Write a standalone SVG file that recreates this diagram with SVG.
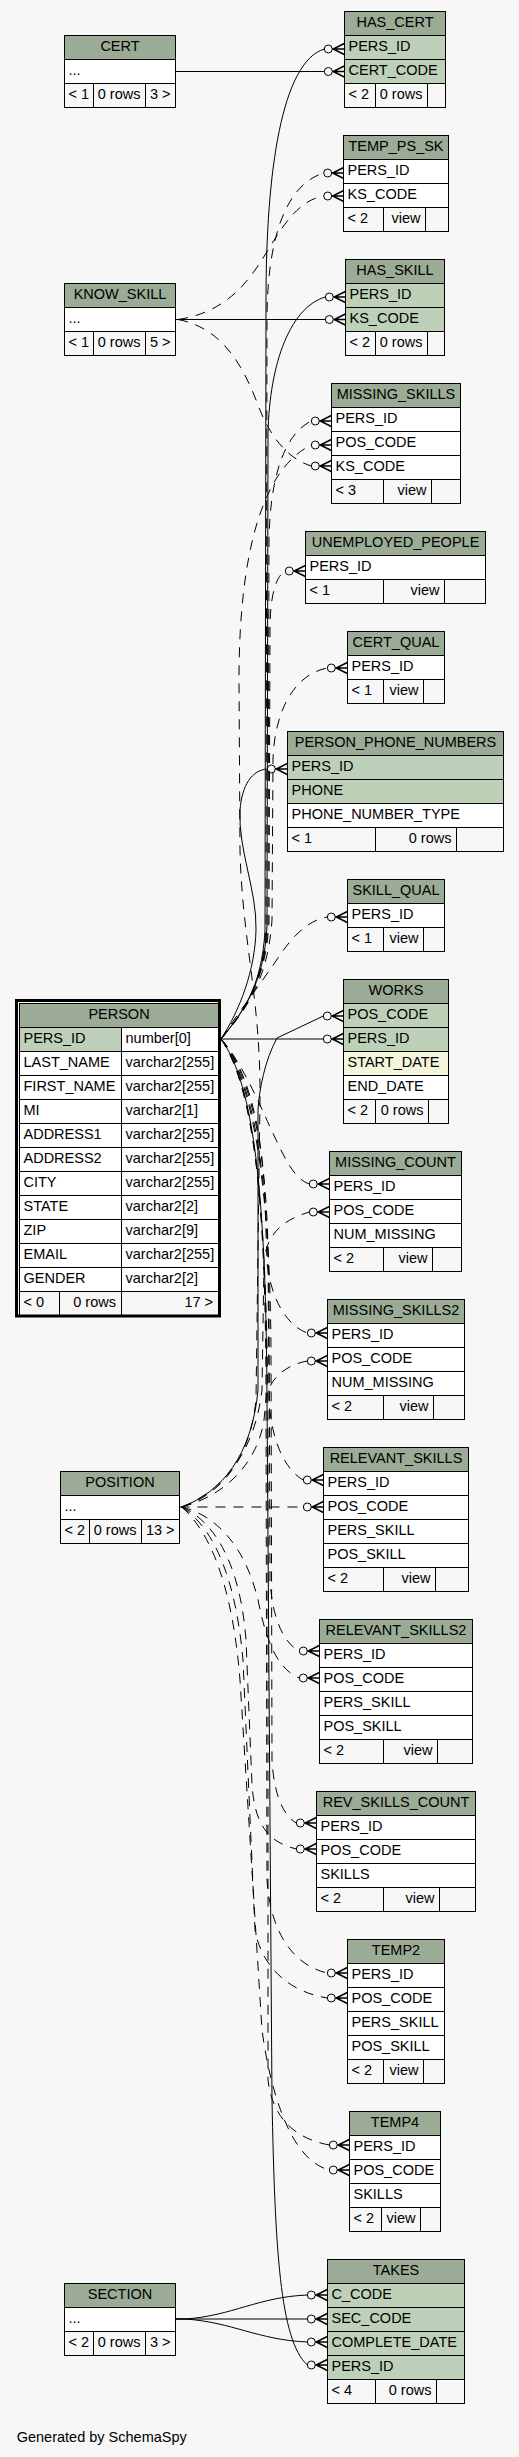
<svg xmlns="http://www.w3.org/2000/svg" width="519" height="2457" viewBox="0 0 519 2457">
<style>
text{font-family:"Liberation Sans",Arial,Helvetica,sans-serif;font-size:14.5px;fill:#000}
.c{text-anchor:middle}
.r{text-anchor:end}
.h{fill:#9bab96;stroke:#000;stroke-width:1}
.k{fill:#bed1b8;stroke:#000;stroke-width:1}
.w{fill:#fff;stroke:#000;stroke-width:1}
.i{fill:#f4f6dc;stroke:#000;stroke-width:1}
.f{fill:none;stroke:#000;stroke-width:1}
.s{fill:none;stroke:#000;stroke-width:1}
.d{fill:none;stroke:#000;stroke-width:1;stroke-dasharray:10,8}
</style>
<defs>
<g id="cr" fill="none" stroke="#000">
<circle cx="4" cy="0" r="4" stroke-width="1"/>
<path d="M8,0H20M9,0L20,-5.5M9,0L20,5.5" stroke-width="1.4"/>
</g>
</defs>
<rect x="0" y="0" width="519" height="2457" fill="#f7f7f7"/>

<g id="connectors">
<path class="s" d="M221,1039 C240,1015 262,990 265,930 L266,300 C266,170 282,62 324.3,49"/>
<path class="s" d="M175.5,71.5 L324.3,71.5"/>
<path class="d" d="M221,1039 C241,1014 263,988 266,928 L267,320 C267,240 285,185 323.7,173"/>
<path class="d" d="M178,319.5 C228,312 250,280 268,250 C285,222 300,200 323.7,196"/>
<path class="s" d="M221,1039 C242,1013 264,986 267,926 L268,440 C268,370 288,308 325.3,297"/>
<path class="s" d="M175.5,319.5 L325.3,319.5"/>
<path class="d" d="M221,1039 C243,1012 265,984 268,924 L269,540 C270,480 283,435 311.3,421"/>
<path class="d" d="M181.7,1507 C220,1495 250,1460 256,1400 L260,1100 C261,1000 242,940 240,850 L239,680 C239,560 260,470 311.3,445"/>
<path class="d" d="M178,319.5 C222,328 243,365 258,405 C268,432 285,458 311.3,466"/>
<path class="d" d="M221,1039 C244,1011 266,982 269,922 L270,630 C270,595 276,576 285.3,571"/>
<path class="d" d="M221,1039 C246,1010 268,980 272,920 L273,760 C274,715 292,675 327.3,668"/>
<path class="s" d="M221,1039 C240,1010 255,970 256,930 C257,890 238,850 240,810 C242,785 252,770 267.3,769"/>
<path class="d" d="M221,1039 C240,1010 260,985 280,955 C295,933 310,920 327.3,917"/>
<path class="s" d="M181.7,1507 C222,1492 252,1455 258,1390 L258,1110 C259,1090 265,1060 277,1038 L323.3,1016"/>
<path class="s" d="M221,1039 L323.3,1039"/>
<path class="d" d="M221,1039 C240,1060 258,1100 270,1127 C282,1152 292,1178 309.3,1184"/>
<path class="d" d="M181.7,1507 C225,1490 255,1450 262,1390 L264,1262 C266,1235 282,1220 309.3,1212"/>
<path class="d" d="M221,1039 C245,1065 262,1120 265,1200 L267,1262 C270,1295 285,1325 307.3,1333"/>
<path class="d" d="M181.7,1507 C228,1495 258,1460 264,1420 L266,1400 C268,1380 285,1365 307.3,1361"/>
<path class="d" d="M221,1039 C248,1070 266,1140 268,1250 L269,1400 C271,1440 285,1470 303.3,1480"/>
<path class="d" d="M179.5,1507 L303.3,1507"/>
<path class="d" d="M221,1039 C250,1075 268,1160 269,1300 L270,1580 C272,1615 282,1642 299.3,1651"/>
<path class="d" d="M181.7,1507 C215,1515 245,1545 258,1600 C265,1635 275,1668 299.3,1678"/>
<path class="d" d="M221,1039 C252,1080 270,1180 271,1350 L272,1760 C274,1795 283,1815 296.3,1823"/>
<path class="d" d="M181.7,1507 C212,1520 240,1560 246,1640 L252,1785 C255,1825 268,1842 296.3,1849"/>
<path class="d" d="M221,1039 C254,1085 266,1200 266,1400 L267,1880 C270,1930 292,1965 327.3,1973"/>
<path class="d" d="M181.7,1507 C210,1525 235,1570 243,1660 L255,1930 C262,1968 290,1992 327.3,1998"/>
<path class="d" d="M221,1039 C256,1090 268,1220 268,1450 L268,2080 C272,2115 292,2138 329.3,2145"/>
<path class="d" d="M181.7,1507 C208,1530 232,1580 240,1680 L262,2030 C270,2090 290,2160 329.3,2170"/>
<path class="s" d="M175.5,2319 L185,2319 C232,2316 258,2297 307.3,2295"/>
<path class="s" d="M175.5,2319 L307.3,2319"/>
<path class="s" d="M175.5,2319 L185,2319 C232,2322 258,2340 307.3,2342"/>
<path class="s" d="M221,1039 C255,1085 266,1200 267,1400 L272,2100 C275,2250 280,2340 307.3,2365"/>
<use href="#cr" x="324.3" y="49"/>
<use href="#cr" x="324.3" y="71.5"/>
<use href="#cr" x="323.7" y="173"/>
<use href="#cr" x="323.7" y="196"/>
<use href="#cr" x="325.3" y="297"/>
<use href="#cr" x="325.3" y="319.5"/>
<use href="#cr" x="311.3" y="421"/>
<use href="#cr" x="311.3" y="445"/>
<use href="#cr" x="311.3" y="466"/>
<use href="#cr" x="285.3" y="571"/>
<use href="#cr" x="327.3" y="668"/>
<use href="#cr" x="267.3" y="769"/>
<use href="#cr" x="327.3" y="917"/>
<use href="#cr" x="323.3" y="1016"/>
<use href="#cr" x="323.3" y="1039"/>
<use href="#cr" x="309.3" y="1184"/>
<use href="#cr" x="309.3" y="1212"/>
<use href="#cr" x="307.3" y="1333"/>
<use href="#cr" x="307.3" y="1361"/>
<use href="#cr" x="303.3" y="1480"/>
<use href="#cr" x="303.3" y="1507"/>
<use href="#cr" x="299.3" y="1651"/>
<use href="#cr" x="299.3" y="1678"/>
<use href="#cr" x="296.3" y="1823"/>
<use href="#cr" x="296.3" y="1849"/>
<use href="#cr" x="327.3" y="1973"/>
<use href="#cr" x="327.3" y="1998"/>
<use href="#cr" x="329.3" y="2145"/>
<use href="#cr" x="329.3" y="2170"/>
<use href="#cr" x="307.3" y="2295"/>
<use href="#cr" x="307.3" y="2319"/>
<use href="#cr" x="307.3" y="2342"/>
<use href="#cr" x="307.3" y="2365"/>
</g>

<g id="CERT">
<rect class="h" x="64.5" y="35.5" width="111" height="24"/><text class="c" x="120" y="51">CERT</text>
<rect class="w" x="64.5" y="59.5" width="111" height="24"/><text x="68.5" y="75">...</text>
<rect class="f" x="64.5" y="83.5" width="111" height="24"/><path class="f" d="M93.5,83.5v24M145.5,83.5v24"/>
<text x="68.5" y="99">&lt; 1</text><text class="r" x="140.5" y="99">0 rows</text><text class="r" x="170.5" y="99">3 &gt;</text>
</g>

<g id="HAS_CERT">
<rect class="h" x="344.5" y="11.5" width="101" height="24"/><text class="c" x="395" y="27">HAS_CERT</text>
<rect class="k" x="344.5" y="35.5" width="101" height="24"/><text x="348.5" y="51">PERS_ID</text>
<rect class="k" x="344.5" y="59.5" width="101" height="24"/><text x="348.5" y="75">CERT_CODE</text>
<rect class="f" x="344.5" y="83.5" width="101" height="24"/><path class="f" d="M375.5,83.5v24M427.5,83.5v24"/>
<text x="348.5" y="99">&lt; 2</text><text class="r" x="422.5" y="99">0 rows</text>
</g>

<g id="TEMP_PS_SK">
<rect class="h" x="343.5" y="135.5" width="105" height="24"/><text class="c" x="396" y="151">TEMP_PS_SK</text>
<rect class="w" x="343.5" y="159.5" width="105" height="24"/><text x="347.5" y="175">PERS_ID</text>
<rect class="w" x="343.5" y="183.5" width="105" height="24"/><text x="347.5" y="199">KS_CODE</text>
<rect class="f" x="343.5" y="207.5" width="105" height="24"/><path class="f" d="M383.5,207.5v24M425.5,207.5v24"/>
<text x="347.5" y="223">&lt; 2</text><text class="r" x="420.5" y="223">view</text>
</g>

<g id="HAS_SKILL">
<rect class="h" x="345.5" y="259.5" width="99" height="24"/><text class="c" x="395" y="275">HAS_SKILL</text>
<rect class="k" x="345.5" y="283.5" width="99" height="24"/><text x="349.5" y="299">PERS_ID</text>
<rect class="k" x="345.5" y="307.5" width="99" height="24"/><text x="349.5" y="323">KS_CODE</text>
<rect class="f" x="345.5" y="331.5" width="99" height="24"/><path class="f" d="M375.5,331.5v24M427.5,331.5v24"/>
<text x="349.5" y="347">&lt; 2</text><text class="r" x="422.5" y="347">0 rows</text>
</g>

<g id="KNOW_SKILL">
<rect class="h" x="64.5" y="283.5" width="111" height="24"/><text class="c" x="120" y="299">KNOW_SKILL</text>
<rect class="w" x="64.5" y="307.5" width="111" height="24"/><text x="68.5" y="323">...</text>
<rect class="f" x="64.5" y="331.5" width="111" height="24"/><path class="f" d="M93.5,331.5v24M145.5,331.5v24"/>
<text x="68.5" y="347">&lt; 1</text><text class="r" x="140.5" y="347">0 rows</text><text class="r" x="170.5" y="347">5 &gt;</text>
</g>

<g id="MISSING_SKILLS">
<rect class="h" x="331.5" y="383.5" width="129" height="24"/><text class="c" x="396" y="399">MISSING_SKILLS</text>
<rect class="w" x="331.5" y="407.5" width="129" height="24"/><text x="335.5" y="423">PERS_ID</text>
<rect class="w" x="331.5" y="431.5" width="129" height="24"/><text x="335.5" y="447">POS_CODE</text>
<rect class="w" x="331.5" y="455.5" width="129" height="24"/><text x="335.5" y="471">KS_CODE</text>
<rect class="f" x="331.5" y="479.5" width="129" height="24"/><path class="f" d="M383.5,479.5v24M431.5,479.5v24"/>
<text x="335.5" y="495">&lt; 3</text><text class="r" x="426.5" y="495">view</text>
</g>

<g id="UNEMPLOYED_PEOPLE">
<rect class="h" x="305.5" y="531.5" width="180" height="24"/><text class="c" x="395.5" y="547">UNEMPLOYED_PEOPLE</text>
<rect class="w" x="305.5" y="555.5" width="180" height="24"/><text x="309.5" y="571">PERS_ID</text>
<rect class="f" x="305.5" y="579.5" width="180" height="24"/><path class="f" d="M383.5,579.5v24M444.5,579.5v24"/>
<text x="309.5" y="595">&lt; 1</text><text class="r" x="439.5" y="595">view</text>
</g>

<g id="CERT_QUAL">
<rect class="h" x="347.5" y="631.5" width="97" height="24"/><text class="c" x="396" y="647">CERT_QUAL</text>
<rect class="w" x="347.5" y="655.5" width="97" height="24"/><text x="351.5" y="671">PERS_ID</text>
<rect class="f" x="347.5" y="679.5" width="97" height="24"/><path class="f" d="M383.5,679.5v24M423.5,679.5v24"/>
<text x="351.5" y="695">&lt; 1</text><text class="r" x="418.5" y="695">view</text>
</g>

<g id="PERSON_PHONE_NUMBERS">
<rect class="h" x="287.5" y="731.5" width="216" height="24"/><text class="c" x="395.5" y="747">PERSON_PHONE_NUMBERS</text>
<rect class="k" x="287.5" y="755.5" width="216" height="24"/><text x="291.5" y="771">PERS_ID</text>
<rect class="k" x="287.5" y="779.5" width="216" height="24"/><text x="291.5" y="795">PHONE</text>
<rect class="w" x="287.5" y="803.5" width="216" height="24"/><text x="291.5" y="819">PHONE_NUMBER_TYPE</text>
<rect class="f" x="287.5" y="827.5" width="216" height="24"/><path class="f" d="M375.5,827.5v24M456.5,827.5v24"/>
<text x="291.5" y="843">&lt; 1</text><text class="r" x="451.5" y="843">0 rows</text>
</g>

<g id="SKILL_QUAL">
<rect class="h" x="347.5" y="879.5" width="97" height="24"/><text class="c" x="396" y="895">SKILL_QUAL</text>
<rect class="w" x="347.5" y="903.5" width="97" height="24"/><text x="351.5" y="919">PERS_ID</text>
<rect class="f" x="347.5" y="927.5" width="97" height="24"/><path class="f" d="M383.5,927.5v24M423.5,927.5v24"/>
<text x="351.5" y="943">&lt; 1</text><text class="r" x="418.5" y="943">view</text>
</g>

<g id="WORKS">
<rect class="h" x="343.5" y="979.5" width="105" height="24"/><text class="c" x="396" y="995">WORKS</text>
<rect class="k" x="343.5" y="1003.5" width="105" height="24"/><text x="347.5" y="1019">POS_CODE</text>
<rect class="k" x="343.5" y="1027.5" width="105" height="24"/><text x="347.5" y="1043">PERS_ID</text>
<rect class="i" x="343.5" y="1051.5" width="105" height="24"/><text x="347.5" y="1067">START_DATE</text>
<rect class="w" x="343.5" y="1075.5" width="105" height="24"/><text x="347.5" y="1091">END_DATE</text>
<rect class="f" x="343.5" y="1099.5" width="105" height="24"/><path class="f" d="M375.5,1099.5v24M428.5,1099.5v24"/>
<text x="347.5" y="1115">&lt; 2</text><text class="r" x="423.5" y="1115">0 rows</text>
</g>

<g id="PERSON">
<rect x="16.5" y="1000.5" width="203" height="315.5" fill="none" stroke="#000" stroke-width="3"/>
<rect class="h" x="19.5" y="1003.5" width="199" height="24"/><text class="c" x="119" y="1019">PERSON</text>
<rect class="k" x="19.5" y="1027.5" width="102" height="24"/><rect class="w" x="121.5" y="1027.5" width="97" height="24"/>
<text x="23.5" y="1043">PERS_ID</text><text x="125.5" y="1043">number[0]</text>
<rect class="w" x="19.5" y="1051.5" width="102" height="24"/><rect class="w" x="121.5" y="1051.5" width="97" height="24"/>
<text x="23.5" y="1067">LAST_NAME</text><text x="125.5" y="1067">varchar2[255]</text>
<rect class="w" x="19.5" y="1075.5" width="102" height="24"/><rect class="w" x="121.5" y="1075.5" width="97" height="24"/>
<text x="23.5" y="1091">FIRST_NAME</text><text x="125.5" y="1091">varchar2[255]</text>
<rect class="w" x="19.5" y="1099.5" width="102" height="24"/><rect class="w" x="121.5" y="1099.5" width="97" height="24"/>
<text x="23.5" y="1115">MI</text><text x="125.5" y="1115">varchar2[1]</text>
<rect class="w" x="19.5" y="1123.5" width="102" height="24"/><rect class="w" x="121.5" y="1123.5" width="97" height="24"/>
<text x="23.5" y="1139">ADDRESS1</text><text x="125.5" y="1139">varchar2[255]</text>
<rect class="w" x="19.5" y="1147.5" width="102" height="24"/><rect class="w" x="121.5" y="1147.5" width="97" height="24"/>
<text x="23.5" y="1163">ADDRESS2</text><text x="125.5" y="1163">varchar2[255]</text>
<rect class="w" x="19.5" y="1171.5" width="102" height="24"/><rect class="w" x="121.5" y="1171.5" width="97" height="24"/>
<text x="23.5" y="1187">CITY</text><text x="125.5" y="1187">varchar2[255]</text>
<rect class="w" x="19.5" y="1195.5" width="102" height="24"/><rect class="w" x="121.5" y="1195.5" width="97" height="24"/>
<text x="23.5" y="1211">STATE</text><text x="125.5" y="1211">varchar2[2]</text>
<rect class="w" x="19.5" y="1219.5" width="102" height="24"/><rect class="w" x="121.5" y="1219.5" width="97" height="24"/>
<text x="23.5" y="1235">ZIP</text><text x="125.5" y="1235">varchar2[9]</text>
<rect class="w" x="19.5" y="1243.5" width="102" height="24"/><rect class="w" x="121.5" y="1243.5" width="97" height="24"/>
<text x="23.5" y="1259">EMAIL</text><text x="125.5" y="1259">varchar2[255]</text>
<rect class="w" x="19.5" y="1267.5" width="102" height="24"/><rect class="w" x="121.5" y="1267.5" width="97" height="24"/>
<text x="23.5" y="1283">GENDER</text><text x="125.5" y="1283">varchar2[2]</text>
<rect class="f" x="19.5" y="1291.5" width="199" height="24"/><path class="f" d="M59.5,1291.5v24M121.5,1291.5v24"/>
<text x="23.5" y="1307">&lt; 0</text><text class="r" x="116" y="1307">0 rows</text><text class="r" x="213" y="1307">17 &gt;</text>
</g>

<g id="MISSING_COUNT">
<rect class="h" x="329.5" y="1151.5" width="132" height="24"/><text class="c" x="395.5" y="1167">MISSING_COUNT</text>
<rect class="w" x="329.5" y="1175.5" width="132" height="24"/><text x="333.5" y="1191">PERS_ID</text>
<rect class="w" x="329.5" y="1199.5" width="132" height="24"/><text x="333.5" y="1215">POS_CODE</text>
<rect class="w" x="329.5" y="1223.5" width="132" height="24"/><text x="333.5" y="1239">NUM_MISSING</text>
<rect class="f" x="329.5" y="1247.5" width="132" height="24"/><path class="f" d="M383.5,1247.5v24M432.5,1247.5v24"/>
<text x="333.5" y="1263">&lt; 2</text><text class="r" x="427.5" y="1263">view</text>
</g>

<g id="MISSING_SKILLS2">
<rect class="h" x="327.5" y="1299.5" width="137" height="24"/><text class="c" x="396" y="1315">MISSING_SKILLS2</text>
<rect class="w" x="327.5" y="1323.5" width="137" height="24"/><text x="331.5" y="1339">PERS_ID</text>
<rect class="w" x="327.5" y="1347.5" width="137" height="24"/><text x="331.5" y="1363">POS_CODE</text>
<rect class="w" x="327.5" y="1371.5" width="137" height="24"/><text x="331.5" y="1387">NUM_MISSING</text>
<rect class="f" x="327.5" y="1395.5" width="137" height="24"/><path class="f" d="M383.5,1395.5v24M433.5,1395.5v24"/>
<text x="331.5" y="1411">&lt; 2</text><text class="r" x="428.5" y="1411">view</text>
</g>

<g id="POSITION">
<rect class="h" x="60.5" y="1471.5" width="119" height="24"/><text class="c" x="120" y="1487">POSITION</text>
<rect class="w" x="60.5" y="1495.5" width="119" height="24"/><text x="64.5" y="1511">...</text>
<rect class="f" x="60.5" y="1519.5" width="119" height="24"/><path class="f" d="M89.5,1519.5v24M141.5,1519.5v24"/>
<text x="64.5" y="1535">&lt; 2</text><text class="r" x="136.5" y="1535">0 rows</text><text class="r" x="174.5" y="1535">13 &gt;</text>
</g>

<g id="RELEVANT_SKILLS">
<rect class="h" x="323.5" y="1447.5" width="145" height="24"/><text class="c" x="396" y="1463">RELEVANT_SKILLS</text>
<rect class="w" x="323.5" y="1471.5" width="145" height="24"/><text x="327.5" y="1487">PERS_ID</text>
<rect class="w" x="323.5" y="1495.5" width="145" height="24"/><text x="327.5" y="1511">POS_CODE</text>
<rect class="w" x="323.5" y="1519.5" width="145" height="24"/><text x="327.5" y="1535">PERS_SKILL</text>
<rect class="w" x="323.5" y="1543.5" width="145" height="24"/><text x="327.5" y="1559">POS_SKILL</text>
<rect class="f" x="323.5" y="1567.5" width="145" height="24"/><path class="f" d="M383.5,1567.5v24M435.5,1567.5v24"/>
<text x="327.5" y="1583">&lt; 2</text><text class="r" x="430.5" y="1583">view</text>
</g>

<g id="RELEVANT_SKILLS2">
<rect class="h" x="319.5" y="1619.5" width="153" height="24"/><text class="c" x="396" y="1635">RELEVANT_SKILLS2</text>
<rect class="w" x="319.5" y="1643.5" width="153" height="24"/><text x="323.5" y="1659">PERS_ID</text>
<rect class="w" x="319.5" y="1667.5" width="153" height="24"/><text x="323.5" y="1683">POS_CODE</text>
<rect class="w" x="319.5" y="1691.5" width="153" height="24"/><text x="323.5" y="1707">PERS_SKILL</text>
<rect class="w" x="319.5" y="1715.5" width="153" height="24"/><text x="323.5" y="1731">POS_SKILL</text>
<rect class="f" x="319.5" y="1739.5" width="153" height="24"/><path class="f" d="M383.5,1739.5v24M437.5,1739.5v24"/>
<text x="323.5" y="1755">&lt; 2</text><text class="r" x="432.5" y="1755">view</text>
</g>

<g id="REV_SKILLS_COUNT">
<rect class="h" x="316.5" y="1791.5" width="159" height="24"/><text class="c" x="396" y="1807">REV_SKILLS_COUNT</text>
<rect class="w" x="316.5" y="1815.5" width="159" height="24"/><text x="320.5" y="1831">PERS_ID</text>
<rect class="w" x="316.5" y="1839.5" width="159" height="24"/><text x="320.5" y="1855">POS_CODE</text>
<rect class="w" x="316.5" y="1863.5" width="159" height="24"/><text x="320.5" y="1879">SKILLS</text>
<rect class="f" x="316.5" y="1887.5" width="159" height="24"/><path class="f" d="M383.5,1887.5v24M439.5,1887.5v24"/>
<text x="320.5" y="1903">&lt; 2</text><text class="r" x="434.5" y="1903">view</text>
</g>

<g id="TEMP2">
<rect class="h" x="347.5" y="1939.5" width="97" height="24"/><text class="c" x="396" y="1955">TEMP2</text>
<rect class="w" x="347.5" y="1963.5" width="97" height="24"/><text x="351.5" y="1979">PERS_ID</text>
<rect class="w" x="347.5" y="1987.5" width="97" height="24"/><text x="351.5" y="2003">POS_CODE</text>
<rect class="w" x="347.5" y="2011.5" width="97" height="24"/><text x="351.5" y="2027">PERS_SKILL</text>
<rect class="w" x="347.5" y="2035.5" width="97" height="24"/><text x="351.5" y="2051">POS_SKILL</text>
<rect class="f" x="347.5" y="2059.5" width="97" height="24"/><path class="f" d="M383.5,2059.5v24M423.5,2059.5v24"/>
<text x="351.5" y="2075">&lt; 2</text><text class="r" x="418.5" y="2075">view</text>
</g>

<g id="TEMP4">
<rect class="h" x="349.5" y="2111.5" width="91" height="24"/><text class="c" x="395" y="2127">TEMP4</text>
<rect class="w" x="349.5" y="2135.5" width="91" height="24"/><text x="353.5" y="2151">PERS_ID</text>
<rect class="w" x="349.5" y="2159.5" width="91" height="24"/><text x="353.5" y="2175">POS_CODE</text>
<rect class="w" x="349.5" y="2183.5" width="91" height="24"/><text x="353.5" y="2199">SKILLS</text>
<rect class="f" x="349.5" y="2207.5" width="91" height="24"/><path class="f" d="M381.5,2207.5v24M420.5,2207.5v24"/>
<text x="353.5" y="2223">&lt; 2</text><text class="r" x="415.5" y="2223">view</text>
</g>

<g id="TAKES">
<rect class="h" x="327.5" y="2259.5" width="137" height="24"/><text class="c" x="396" y="2275">TAKES</text>
<rect class="k" x="327.5" y="2283.5" width="137" height="24"/><text x="331.5" y="2299">C_CODE</text>
<rect class="k" x="327.5" y="2307.5" width="137" height="24"/><text x="331.5" y="2323">SEC_CODE</text>
<rect class="k" x="327.5" y="2331.5" width="137" height="24"/><text x="331.5" y="2347">COMPLETE_DATE</text>
<rect class="k" x="327.5" y="2355.5" width="137" height="24"/><text x="331.5" y="2371">PERS_ID</text>
<rect class="f" x="327.5" y="2379.5" width="137" height="24"/><path class="f" d="M375.5,2379.5v24M436.5,2379.5v24"/>
<text x="331.5" y="2395">&lt; 4</text><text class="r" x="431.5" y="2395">0 rows</text>
</g>

<g id="SECTION">
<rect class="h" x="64.5" y="2283.5" width="111" height="24"/><text class="c" x="120" y="2299">SECTION</text>
<rect class="w" x="64.5" y="2307.5" width="111" height="24"/><text x="68.5" y="2323">...</text>
<rect class="f" x="64.5" y="2331.5" width="111" height="24"/><path class="f" d="M93.5,2331.5v24M145.5,2331.5v24"/>
<text x="68.5" y="2347">&lt; 2</text><text class="r" x="140.5" y="2347">0 rows</text><text class="r" x="170.5" y="2347">3 &gt;</text>
</g>

<text x="16.7" y="2442">Generated by SchemaSpy</text>
</svg>
